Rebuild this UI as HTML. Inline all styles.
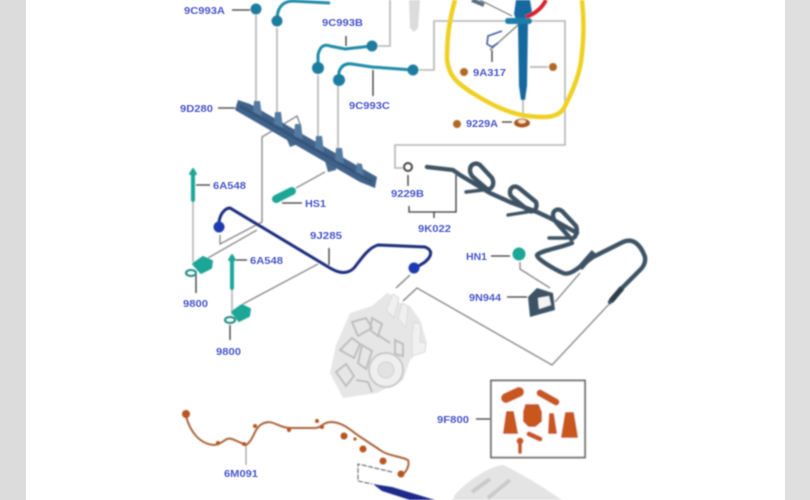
<!DOCTYPE html>
<html><head><meta charset="utf-8">
<style>
html,body{margin:0;padding:0;width:810px;height:500px;overflow:hidden;background:#fff}
svg{display:block}
text{font-family:"Liberation Sans",sans-serif;font-size:10.5px;fill:#4c58cc;font-weight:bold;stroke:none}
</style></head><body>
<svg width="810" height="500" viewBox="0 0 810 500" xmlns="http://www.w3.org/2000/svg">
<defs>
<filter id="b" x="-5%" y="-5%" width="110%" height="110%"><feGaussianBlur stdDeviation="0.7"/></filter>
<filter id="t" x="-5%" y="-20%" width="110%" height="140%"><feGaussianBlur stdDeviation="0.4"/></filter>
</defs>
<rect x="0" y="0" width="26" height="500" fill="#dcdcdc"/>
<rect x="785" y="0" width="25" height="500" fill="#dfdfdf"/>
<g filter="url(#b)">
<!-- pump -->
<path d="M330 373L336 345L350 313L372 306L387 293L394 296L400 303L410 306L420 320L427 343L410 360L403 380L377 393L343 398Z" fill="#e6e6e6"/>
<g fill="none" stroke="#bdbdbd" stroke-width="2">
<path d="M340 350l12 -12l8 6l-6 14zM352 322l14 -4l6 10l-14 8zM336 372l10 -8l8 12l-8 10zM372 318l10 6l-4 12l-8 -6z"/>
<path d="M362 345l10 6l-6 18l-8 -6zM356 380l12 2l4 10M395 340l8 4l0 12l-8 -2zM378 335l12 8"/>
</g>
<circle cx="386" cy="370" r="17" fill="#efefef" stroke="#c8c8c8" stroke-width="2"/>
<circle cx="386" cy="370" r="8" fill="#e2e2e2" stroke="#d0d0d0"/>
<path d="M386 310L393 294L399 298L394 318ZM398 318L402 303L408 306L406 328ZM412 335L414 322L421 324L420 342L426 343L425 352L412 356Z" fill="#f0f0f0" stroke="#dadada"/>
<!-- gray leaders -->
<g fill="none" stroke="#b4b4b4" stroke-width="1.6">
<path d="M256 15V102M277 28V112M318 75V137M338 85V150"/>
<path d="M378 46H390V0"/>
<path d="M419 70H434V21H565V145H395V168H403"/>
<path d="M523 100V118"/>
<path d="M193 198V262M232 288V315"/>
</g>
<g fill="none" stroke="#777" stroke-width="1.2">
<path d="M300 124L297 116L262 137V222L220 244V235"/>
<path d="M257 230L208 258M243 304L318 264"/>
<path d="M296 188L325 172"/>
<path d="M396 288L410 275M403 301L417 288L552 365L612 301"/>
<path d="M520 262V269L550 288M555 302L580 273"/>
<path d="M480 0L512 16M490 50L518 25"/>
</g>
<!-- black leaders -->
<g fill="none" stroke="#333" stroke-width="1.3">
<path d="M232 10H250M346 36V46M373 70V96M218 108H235M196 185H210M282 203H302M196 275V293"/>
<path d="M236 260H247M230 325V340"/>
<path d="M329 248V265M408 175V186"/>
<path d="M409 206V212H456V175M434 212V218M491 256H510M507 297H527"/>
<path d="M492 50V62M502 122H512M476 419H490"/>
</g>
<path d="M246 446V465" stroke="#999" stroke-width="1.2"/>
<path d="M530 67H548" stroke="#aaa" stroke-width="1.4"/>
<!-- rail -->
<path d="M281 125L290 147L298 144L296 130ZM322 150L328 172L336 170L336 156Z" fill="#4a6b8f"/>
<path d="M238 100L250 104L377 177L375 188L360 182L235 110Z" fill="#3f6289"/>
<path d="M240 106L372 182" stroke="#34557c" stroke-width="3"/>
<g fill="#557a9f"><path d="M253 112L254 101L260 101L262 116Z"/><path d="M274 124L275 112L281 112L283 128Z"/><path d="M294 136L295 124L301 124L303 140Z"/><path d="M315 148L316 136L322 136L324 152Z"/><path d="M335 160L336 148L342 148L344 164Z"/><path d="M356 172L357 163L362 164L364 176Z"/></g>
<!-- teal pipes -->
<g fill="none" stroke="#1f8aa8" stroke-width="3">
<path d="M277 20C277 8 282 2 292 1L330 3"/>
<path d="M318 64V55C320 46 324 44 330 46L345 49L372 46"/>
<path d="M339 76V72C341 66 345 63 352 64L372 67L413 70"/>
</g>
<g fill="#1c7d9e"><circle cx="256" cy="9" r="5.5"/><circle cx="277" cy="21" r="5.5"/><circle cx="318" cy="68" r="6"/><circle cx="372" cy="46" r="5.5"/><circle cx="339" cy="80" r="6"/><circle cx="413" cy="70" r="5.5"/></g>
<!-- top injector gray -->
<path d="M409 0H420L418 28L414 32L410 28Z" fill="#dcdcdc"/>
<!-- injector -->
<path d="M516 0H530L532 12L528 20L527 86L525 100H521L519 86L518 25L514 14Z" fill="#12699f"/>
<rect x="505" y="18" width="27" height="6" rx="3" fill="#1d7fa8"/>
<path d="M526 17Q540 12 546 0" fill="none" stroke="#d8232a" stroke-width="4"/>
<path d="M472 0L484 5" stroke="#5a6e7e" stroke-width="4"/>
<path d="M502 31L488 36L487 44L492 47L498 43" fill="none" stroke="#3f5aa0" stroke-width="1.6"/>
<!-- yellow hand-drawn -->
<path d="M455 0C450 18 447 35 447 58C448 76 458 84 474 94C490 104 510 114 528 116C545 118 558 118 564 108C570 96 578 80 581 62C584 40 584 18 582 0" fill="none" stroke="#efd022" stroke-width="4.5"/>
<!-- orange dots and washer -->
<g fill="#b06a20"><circle cx="464" cy="72" r="4"/><circle cx="553" cy="67" r="4"/><circle cx="457" cy="124" r="4"/></g>
<ellipse cx="522" cy="123" rx="8" ry="4.5" fill="#a8581c"/><ellipse cx="522" cy="121.5" rx="4" ry="2" fill="#f6e0c0"/>
<!-- bolts teal -->
<g stroke="#1fa696" fill="none" stroke-linecap="round">
<path d="M193 172V200" stroke-width="4"/><path d="M232 258V288" stroke-width="4"/>
<path d="M276 199L292 191" stroke-width="8"/>
</g>
<g fill="#1fa696" stroke="#1fa696" stroke-width="2" stroke-linejoin="round">
<path d="M190 174L193 169L196 174Z"/><path d="M229 260L232 255L235 260Z"/>
<path d="M193 264L203 257L212 261L211 268L201 273Z"/>
<path d="M232 312L242 305L250 309L249 316L239 321Z"/>
<circle cx="519" cy="254" r="5.5"/>
</g>
<g fill="none" stroke="#1d8a80" stroke-width="2">
<ellipse cx="191" cy="273" rx="5" ry="3"/><ellipse cx="230" cy="320" rx="5" ry="3"/>
</g>
<!-- blue pipe -->
<path d="M219 222C220 214 225 208 230 208L330 268C340 274 348 274 354 268C362 258 368 248 378 245L425 247C433 250 432 256 425 262L417 267" fill="none" stroke="#1a2c7c" stroke-width="3"/>
<circle cx="219" cy="227" r="5.5" fill="#1c3ab0"/>
<circle cx="414" cy="268" r="5.5" fill="#1c3ab0"/>
<!-- harness -->
<circle cx="408" cy="167" r="4" fill="none" stroke="#444" stroke-width="2"/>
<g fill="none" stroke="#3e5264" stroke-width="4.4" stroke-linejoin="round" stroke-linecap="round">
<path d="M427 167L453 170L460 175L490 193L510 202L537 212L550 218L577 233"/>
<path d="M470 170C470 164 476 162 480 165L492 178C495 184 492 190 487 189L473 177C471 175 470 173 470 170Z"/>
<path d="M510 192C510 187 515 185 519 188L536 202C538 208 534 213 529 211L512 197C510 195 510 194 510 192Z"/>
<path d="M553 215C553 210 558 208 562 211L576 226C578 232 576 238 571 239L556 222C554 220 553 218 553 215Z"/>
<path d="M466 192L483 190M508 215L527 212M549 238L567 238" stroke-width="3.4"/>
<path d="M572 243C560 248 542 250 537 255C536 259 556 270 563 273C570 276 578 268 593 257L623 242C632 238 640 243 645 257C646 264 642 268 640 270L620 290L610 302"/>
</g>
<path d="M580 268L594 252" stroke="#3e5264" stroke-width="6"/>
<path d="M611 301L622 288" stroke="#2f3d4c" stroke-width="5.5"/>
<path d="M528 297L537 288L553 293L555 310L530 317Z" fill="#3e5264"/>
<path d="M538 298L549 296L551 305L539 309Z" fill="#f4f4f4"/>
<!-- bottom harness -->
<path d="M186 416C190 432 200 444 214 445C224 444 224 437 232 439L246 445C254 440 254 428 262 424C272 418 278 428 290 428L315 428C322 428 322 422 332 422C345 423 352 432 362 438L380 450C388 456 400 456 408 460C410 466 406 472 402 475" fill="none" stroke="#a8643a" stroke-width="2"/>
<g fill="#b8551e">
<circle cx="186" cy="414" r="4"/><circle cx="344" cy="436" r="3.5"/><circle cx="363" cy="449" r="3.5"/><circle cx="383" cy="461" r="3.5"/><circle cx="401" cy="474" r="3.5"/>
<circle cx="218" cy="443" r="2"/><circle cx="255" cy="426" r="2"/><circle cx="289" cy="430" r="2"/><circle cx="317" cy="421" r="2"/><circle cx="322" cy="427" r="2"/><circle cx="355" cy="439" r="1.6"/><circle cx="244" cy="444" r="2"/>
</g>
<path d="M392 472L358 464V481L372 484" fill="none" stroke="#555" stroke-width="1" stroke-dasharray="5 1.5"/>
<path d="M373 484L392 487L435 500H410L382 491Z" fill="#1a2c8c"/>
<path d="M395 495V490" stroke="#333"/>
<!-- engine bottom -->
<path d="M455 495C465 482 490 466 503 465C515 470 545 488 562 500H452Z" fill="#e4e4e4"/>
<path d="M472 492l18-13M488 498l22-18" stroke="#cacaca" stroke-width="4"/>
<!-- box -->
<rect x="491" y="380.5" width="94" height="77" fill="#fff" stroke="#666" stroke-width="1.8"/>
<g stroke="#c9561d" fill="none" stroke-linecap="round">
<path d="M506 398L519 392" stroke-width="10"/>
<path d="M540 393L556 402" stroke-width="7"/>
<path d="M529 434L540 439" stroke-width="5"/>
<path d="M520 444V452" stroke-width="4"/>
</g>
<g fill="#c9561d" stroke="#c9561d" stroke-width="2" stroke-linejoin="round">
<path d="M526 405H538L541 412V421L535 426H529L524 421V412Z"/>
<path d="M507 412H513L517 433H504Z"/>
<path d="M550 414H553L556 433H549Z"/>
<path d="M566 413H573L577 437H562Z"/>
<circle cx="520" cy="441" r="2.5"/>
</g>
</g>
<g filter="url(#t)">
<text x="184" y="14" textLength="41" lengthAdjust="spacingAndGlyphs">9C993A</text>
<text x="322" y="26" textLength="41" lengthAdjust="spacingAndGlyphs">9C993B</text>
<text x="349" y="109" textLength="41" lengthAdjust="spacingAndGlyphs">9C993C</text>
<text x="180" y="112" textLength="33" lengthAdjust="spacingAndGlyphs">9D280</text>
<text x="473" y="76" textLength="33" lengthAdjust="spacingAndGlyphs">9A317</text>
<text x="466" y="127" textLength="32" lengthAdjust="spacingAndGlyphs">9229A</text>
<text x="213" y="189" textLength="33" lengthAdjust="spacingAndGlyphs">6A548</text>
<text x="305" y="207" textLength="21" lengthAdjust="spacingAndGlyphs">HS1</text>
<text x="250" y="264" textLength="33" lengthAdjust="spacingAndGlyphs">6A548</text>
<text x="310" y="239" textLength="32" lengthAdjust="spacingAndGlyphs">9J285</text>
<text x="391" y="197" textLength="33" lengthAdjust="spacingAndGlyphs">9229B</text>
<text x="418" y="232" textLength="33" lengthAdjust="spacingAndGlyphs">9K022</text>
<text x="466" y="260" textLength="21" lengthAdjust="spacingAndGlyphs">HN1</text>
<text x="469" y="301" textLength="32" lengthAdjust="spacingAndGlyphs">9N944</text>
<text x="183" y="307" textLength="25" lengthAdjust="spacingAndGlyphs">9800</text>
<text x="216" y="355" textLength="25" lengthAdjust="spacingAndGlyphs">9800</text>
<text x="437" y="423" textLength="32" lengthAdjust="spacingAndGlyphs">9F800</text>
<text x="224" y="477" textLength="34" lengthAdjust="spacingAndGlyphs">6M091</text>
</g>
</svg>
</body></html>
